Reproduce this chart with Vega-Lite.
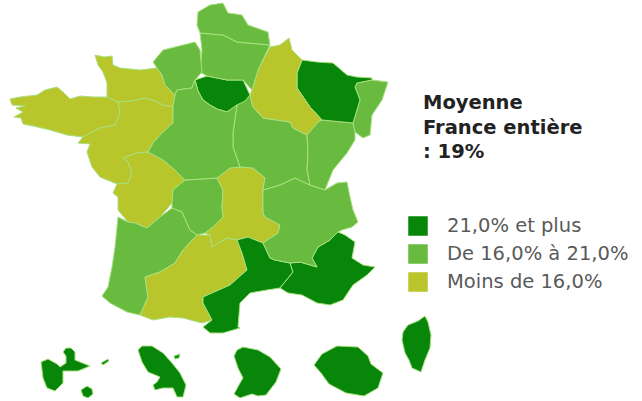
{"$schema":"https://vega.github.io/schema/vega-lite/v6.json","width":642,"height":401,"autosize":{"type":"fit","contains":"padding"},"padding":0,"background":"white","projection":{"type":"identity","scale":1,"translate":[0,0]},"layer":[{"data":{"values":[
{"type":"Feature","properties":{"region":"Bretagne","classe":"Moins de 16,0%"},"geometry":{"type":"Polygon","coordinates":[[[10,99],[20,97],[37,95],[45,90],[57,87],[63,92],[70,99],[80,96],[93,97],[107,97],[118,102],[120,113],[115,125],[100,128],[83,137],[67,135],[50,130],[33,126],[23,124],[21,118],[14,117],[23,112],[16,108],[25,106],[12,105],[10,99]]]}},
{"type":"Feature","properties":{"region":"Basse-Normandie","classe":"Moins de 16,0%"},"geometry":{"type":"Polygon","coordinates":[[[95,55],[104,57],[112,56],[113,65],[120,68],[140,70],[157,68],[162,75],[165,85],[175,95],[173,107],[163,105],[155,101],[145,98],[132,101],[118,102],[107,97],[107,83],[103,72],[98,65],[95,55]]]}},
{"type":"Feature","properties":{"region":"Pays de la Loire","classe":"Moins de 16,0%"},"geometry":{"type":"Polygon","coordinates":[[[118,102],[132,101],[145,98],[155,101],[163,105],[173,107],[173,123],[163,132],[153,143],[148,152],[137,153],[123,158],[128,162],[132,173],[128,183],[117,184],[100,177],[92,167],[87,152],[90,144],[78,143],[83,137],[100,128],[115,125],[120,113],[118,102]]]}},
{"type":"Feature","properties":{"region":"Poitou-Charentes","classe":"Moins de 16,0%"},"geometry":{"type":"Polygon","coordinates":[[[123,158],[137,153],[148,152],[163,160],[175,170],[185,180],[173,190],[172,203],[160,217],[147,228],[135,223],[128,222],[118,210],[118,197],[113,193],[117,184],[128,183],[132,173],[128,162],[123,158]]]}},
{"type":"Feature","properties":{"region":"Aquitaine","classe":"De 16,0% à 21,0%"},"geometry":{"type":"Polygon","coordinates":[[[118,217],[128,222],[135,223],[147,228],[160,217],[172,208],[182,212],[190,230],[197,235],[183,250],[175,263],[160,272],[145,277],[148,297],[140,315],[127,312],[110,303],[102,296],[108,287],[112,267],[115,247],[117,227],[118,217]]]}},
{"type":"Feature","properties":{"region":"Midi-Pyrénées","classe":"Moins de 16,0%"},"geometry":{"type":"Polygon","coordinates":[[[197,235],[210,235],[212,247],[227,238],[237,240],[242,253],[247,270],[230,285],[203,297],[203,303],[212,320],[202,323],[183,318],[170,317],[153,320],[140,315],[148,297],[145,277],[160,272],[175,263],[183,250],[197,235]]]}},
{"type":"Feature","properties":{"region":"Limousin","classe":"De 16,0% à 21,0%"},"geometry":{"type":"Polygon","coordinates":[[[173,190],[185,180],[217,178],[223,190],[222,207],[223,217],[213,227],[205,233],[197,235],[190,230],[182,212],[172,208],[172,203],[173,190]]]}},
{"type":"Feature","properties":{"region":"Auvergne","classe":"Moins de 16,0%"},"geometry":{"type":"Polygon","coordinates":[[[217,178],[230,168],[240,167],[253,168],[265,178],[263,190],[263,213],[265,217],[280,225],[278,233],[263,243],[248,237],[237,240],[227,238],[212,247],[210,235],[205,233],[213,227],[223,217],[222,207],[223,190],[217,178]]]}},
{"type":"Feature","properties":{"region":"Languedoc-Roussillon","classe":"21,0% et plus"},"geometry":{"type":"Polygon","coordinates":[[[237,240],[248,237],[263,243],[270,258],[275,260],[290,263],[293,272],[280,288],[267,290],[250,293],[240,303],[238,327],[240,328],[223,333],[210,333],[203,327],[212,320],[203,303],[203,297],[230,285],[247,270],[242,253],[237,240]]]}},
{"type":"Feature","properties":{"region":"Provence-Alpes-Côte d'Azur","classe":"21,0% et plus"},"geometry":{"type":"Polygon","coordinates":[[[290,263],[300,262],[317,267],[312,258],[318,247],[330,240],[338,232],[345,235],[355,242],[352,258],[363,265],[375,267],[367,275],[353,285],[343,300],[330,305],[317,303],[302,295],[288,293],[280,288],[293,272],[290,263]]]}},
{"type":"Feature","properties":{"region":"Rhône-Alpes","classe":"De 16,0% à 21,0%"},"geometry":{"type":"Polygon","coordinates":[[[263,190],[280,185],[295,178],[310,185],[325,190],[337,183],[347,182],[350,197],[353,210],[358,222],[352,227],[342,230],[338,232],[330,240],[318,247],[312,258],[317,267],[300,262],[290,263],[275,260],[270,258],[263,243],[278,233],[280,225],[265,217],[263,213],[263,190]]]}},
{"type":"Feature","properties":{"region":"Bourgogne","classe":"De 16,0% à 21,0%"},"geometry":{"type":"Polygon","coordinates":[[[237,105],[250,95],[253,107],[263,118],[290,122],[293,128],[307,135],[308,153],[307,170],[310,185],[295,178],[280,185],[263,190],[265,178],[253,168],[240,167],[233,147],[233,133],[237,105]]]}},
{"type":"Feature","properties":{"region":"Franche-Comté","classe":"De 16,0% à 21,0%"},"geometry":{"type":"Polygon","coordinates":[[[307,135],[318,122],[322,120],[353,123],[355,132],[355,140],[347,153],[333,170],[325,190],[310,185],[307,170],[308,153],[307,135]]]}},
{"type":"Feature","properties":{"region":"Alsace","classe":"De 16,0% à 21,0%"},"geometry":{"type":"Polygon","coordinates":[[[357,83],[372,80],[388,82],[382,100],[372,115],[370,135],[363,138],[355,132],[353,123],[360,100],[355,87],[357,83]]]}},
{"type":"Feature","properties":{"region":"Lorraine","classe":"21,0% et plus"},"geometry":{"type":"Polygon","coordinates":[[[302,60],[317,62],[333,63],[347,75],[357,77],[372,78],[372,80],[357,83],[355,87],[360,100],[353,123],[322,120],[310,107],[297,88],[297,73],[302,60]]]}},
{"type":"Feature","properties":{"region":"Champagne-Ardenne","classe":"Moins de 16,0%"},"geometry":{"type":"Polygon","coordinates":[[[289,38],[292,50],[302,60],[297,73],[297,88],[310,107],[322,120],[318,122],[307,135],[293,128],[290,122],[263,118],[253,107],[250,95],[252,90],[258,70],[270,47],[280,45],[289,38]]]}},
{"type":"Feature","properties":{"region":"Île-de-France","classe":"21,0% et plus"},"geometry":{"type":"Polygon","coordinates":[[[195,80],[207,76],[227,80],[243,80],[250,95],[245,101],[237,105],[227,112],[217,109],[210,105],[203,100],[198,91],[195,80]]]}},
{"type":"Feature","properties":{"region":"Picardie","classe":"De 16,0% à 21,0%"},"geometry":{"type":"Polygon","coordinates":[[[200,33],[223,35],[237,42],[270,45],[258,70],[252,90],[243,80],[227,80],[207,76],[200,72],[202,50],[200,33]]]}},
{"type":"Feature","properties":{"region":"Nord-Pas-de-Calais","classe":"De 16,0% à 21,0%"},"geometry":{"type":"Polygon","coordinates":[[[198,12],[210,5],[223,3],[228,13],[242,15],[248,25],[268,32],[270,45],[237,42],[223,35],[200,33],[197,25],[198,12]]]}},
{"type":"Feature","properties":{"region":"Haute-Normandie","classe":"De 16,0% à 21,0%"},"geometry":{"type":"Polygon","coordinates":[[[153,62],[163,50],[195,42],[200,50],[202,72],[195,80],[192,88],[177,90],[175,95],[165,85],[162,75],[157,68],[153,62]]]}},
{"type":"Feature","properties":{"region":"Centre","classe":"De 16,0% à 21,0%"},"geometry":{"type":"Polygon","coordinates":[[[175,95],[177,90],[192,88],[195,80],[198,91],[203,100],[210,105],[217,109],[227,112],[237,105],[233,133],[233,147],[240,167],[230,168],[217,178],[185,180],[175,170],[163,160],[148,152],[153,143],[163,132],[173,123],[173,107],[175,95]]]}},
{"type":"Feature","properties":{"region":"Corse","classe":"21,0% et plus"},"geometry":{"type":"Polygon","coordinates":[[[425,316],[428,322],[431,335],[430,348],[425,360],[421,372],[412,368],[409,360],[405,353],[402,340],[403,332],[408,325],[418,321],[425,316]]]}},
{"type":"Feature","properties":{"region":"La Réunion","classe":"21,0% et plus"},"geometry":{"type":"Polygon","coordinates":[[[314,365],[322,354],[337,346],[358,347],[368,356],[371,364],[383,373],[378,388],[364,396],[346,393],[329,384],[321,373],[314,365]]]}},
{"type":"Feature","properties":{"region":"Guyane","classe":"21,0% et plus"},"geometry":{"type":"Polygon","coordinates":[[[243,347],[258,350],[270,357],[281,369],[276,382],[266,395],[258,396],[252,394],[240,398],[234,394],[240,383],[243,378],[238,368],[234,356],[237,350],[243,347]]]}},
{"type":"Feature","properties":{"region":"Guadeloupe","classe":"21,0% et plus"},"geometry":{"type":"MultiPolygon","coordinates":[[[[41,362],[48,359],[57,364],[60,367],[66,363],[66,356],[63,352],[66,348],[71,348],[75,352],[75,360],[80,362],[90,366],[78,371],[63,371],[63,383],[55,391],[47,388],[43,378],[41,362]]],[[[87,386],[92,389],[93,394],[88,398],[83,396],[81,390],[87,386]]],[[[101,363],[108,359],[109,361],[103,365],[101,363]]]]}},
{"type":"Feature","properties":{"region":"Martinique","classe":"21,0% et plus"},"geometry":{"type":"MultiPolygon","coordinates":[[[[138,350],[142,362],[148,372],[160,377],[157,382],[153,385],[155,390],[163,388],[173,388],[177,397],[183,397],[186,385],[180,373],[172,363],[163,353],[152,346],[142,346],[138,350]]],[[[174,356],[180,354],[179,358],[175,359],[174,356]]]]}}
]},"mark":{"type":"geoshape","stroke":"#a8e080","strokeWidth":1,"strokeJoin":"round"},"encoding":{"color":{"field":"properties.classe","type":"nominal","scale":{"domain":["21,0% et plus","De 16,0% à 21,0%","Moins de 16,0%"],"range":["#07860a","#69bb3f","#b9c62b"]},"legend":{"title":null,"orient":"none","legendX":408,"legendY":216,"symbolType":"square","symbolSize":380,"symbolStrokeWidth":0,"symbolOpacity":1,"rowPadding":8,"labelFont":"DejaVu Sans","labelFontSize":19.5,"labelColor":"#5a5a5a","labelOffset":19,"labelLimit":240}}}},
{"data":{"values":[{"x":423,"y":109,"t":"Moyenne"},{"x":423,"y":134,"t":"France entière"},{"x":423,"y":158,"t":": 19%"}]},"mark":{"type":"text","align":"left","baseline":"alphabetic","font":"DejaVu Sans","fontWeight":"bold","fontSize":19.5,"color":"#222222"},"encoding":{"longitude":{"field":"x","type":"quantitative"},"latitude":{"field":"y","type":"quantitative"},"text":{"field":"t","type":"nominal"}}}
],"config":{"view":{"stroke":null}}}
